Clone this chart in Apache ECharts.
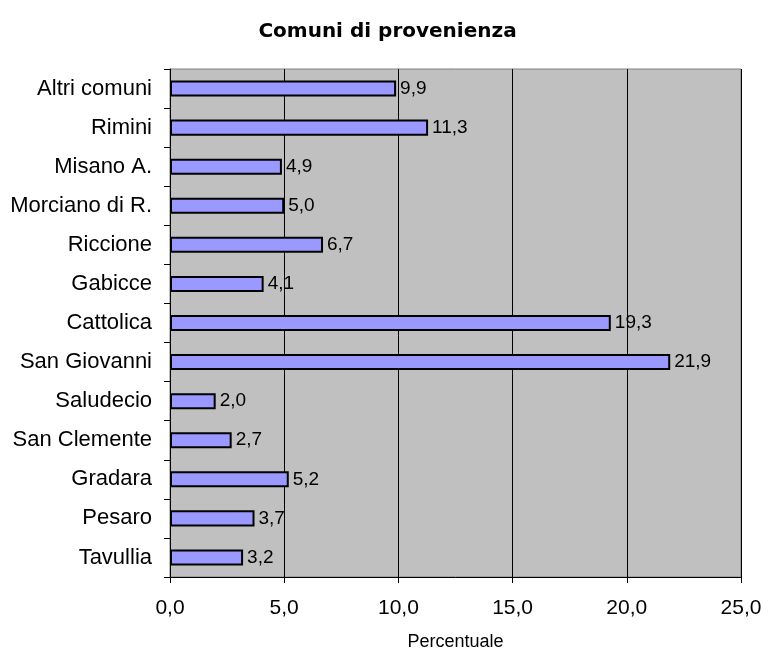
<!DOCTYPE html>
<html><head><meta charset="utf-8">
<script src="https://cdn.jsdelivr.net/npm/echarts@6/dist/echarts.min.js"></script>
<style>html,body{margin:0;padding:0;background:#fff}#c{width:775px;height:658px}</style>
</head><body><div id="c"></div>
<script>
const categories = ["Altri comuni","Rimini","Misano A.","Morciano di R.","Riccione","Gabicce","Cattolica","San Giovanni","Saludecio","San Clemente","Gradara","Pesaro","Tavullia"];
const values = [9.9,11.3,4.9,5.0,6.7,4.1,19.3,21.9,2.0,2.7,5.2,3.7,3.2];
const fmt = v => v.toFixed(1).replace('.', ',');
const chart = echarts.init(document.getElementById('c'));
chart.setOption({
  animation:false,
  title:{text:'Comuni di provenienza',left:'center',top:17,textStyle:{fontFamily:'DejaVu Sans',fontWeight:'bold',fontSize:20,color:'#000'}},
  grid:{left:170,right:34,top:69,bottom:81,show:true,backgroundColor:'#C0C0C0',borderColor:'#808080',borderWidth:1},
  xAxis:{type:'value',min:0,max:25,interval:5,
    name:'Percentuale',nameLocation:'middle',nameGap:56,nameTextStyle:{fontFamily:'Liberation Sans',fontSize:18,color:'#000'},
    axisLine:{show:true,lineStyle:{color:'#000',width:1}},
    axisTick:{show:true,length:6,lineStyle:{color:'#000'}},
    axisLabel:{fontFamily:'Liberation Sans',fontSize:21,color:'#000',margin:21,formatter:v=>fmt(v)},
    splitLine:{show:true,lineStyle:{color:'#000',width:1}}},
  yAxis:{type:'category',data:categories,inverse:true,
    axisLine:{show:true,lineStyle:{color:'#000',width:1}},
    axisTick:{show:true,length:6,lineStyle:{color:'#000'}},
    axisLabel:{fontFamily:'Liberation Sans',fontSize:22,color:'#000',margin:18}},
  series:[{type:'bar',data:values,barWidth:'41%',
    itemStyle:{color:'#9999FF',borderColor:'#000',borderWidth:2},
    label:{show:true,position:'right',distance:4,fontFamily:'Liberation Sans',fontSize:19,color:'#000',formatter:p=>fmt(p.value)}}]
});
</script></body></html>
